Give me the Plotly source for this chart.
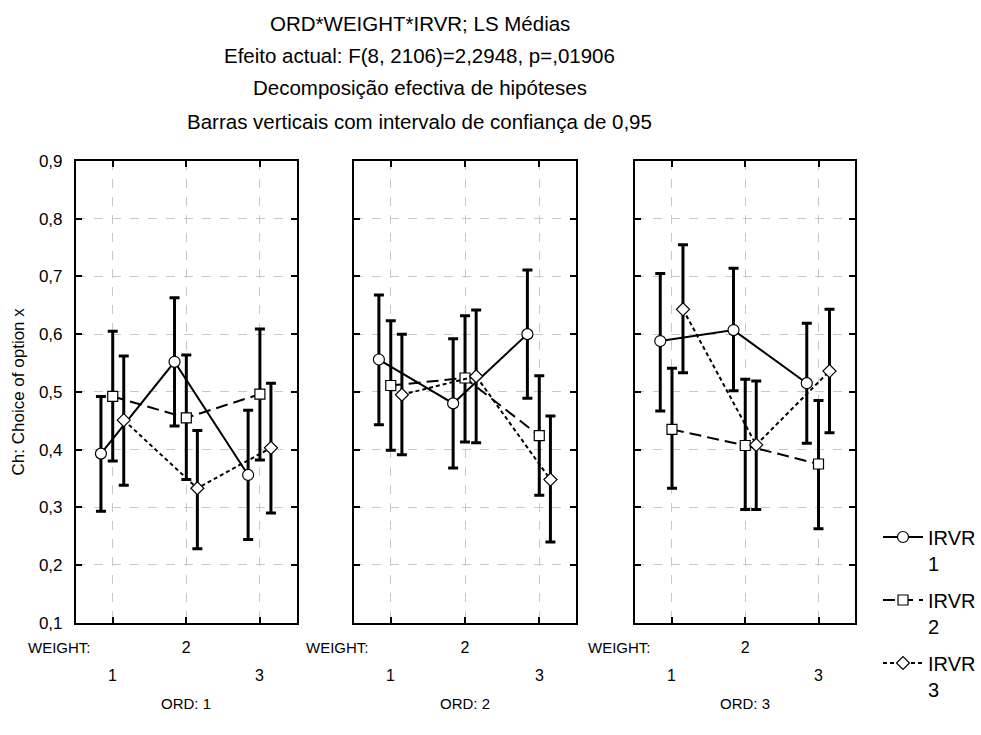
import plotly.graph_objects as go

# ---------------- data ----------------
weights = [1, 2, 3]
ord_labels = ["ORD: 1", "ORD: 2", "ORD: 3"]
irvr_names = ["IRVR<br>1", "IRVR<br>2", "IRVR<br>3"]

# LS means and 95% CI bounds, per ORD panel, per IRVR level, over WEIGHT 1..3
ord1_irvr1_mean = [0.393, 0.552, 0.356]
ord1_irvr1_lo = [0.293, 0.441, 0.244]
ord1_irvr1_hi = [0.492, 0.663, 0.468]
ord1_irvr2_mean = [0.492, 0.455, 0.496]
ord1_irvr2_lo = [0.380, 0.348, 0.382]
ord1_irvr2_hi = [0.605, 0.564, 0.609]
ord1_irvr3_mean = [0.451, 0.333, 0.403]
ord1_irvr3_lo = [0.338, 0.228, 0.290]
ord1_irvr3_hi = [0.562, 0.433, 0.515]

ord2_irvr1_mean = [0.556, 0.480, 0.600]
ord2_irvr1_lo = [0.443, 0.368, 0.489]
ord2_irvr1_hi = [0.668, 0.592, 0.711]
ord2_irvr2_mean = [0.511, 0.524, 0.424]
ord2_irvr2_lo = [0.399, 0.413, 0.321]
ord2_irvr2_hi = [0.623, 0.632, 0.528]
ord2_irvr3_mean = [0.495, 0.527, 0.348]
ord2_irvr3_lo = [0.391, 0.412, 0.240]
ord2_irvr3_hi = [0.600, 0.642, 0.458]

ord3_irvr1_mean = [0.588, 0.607, 0.515]
ord3_irvr1_lo = [0.467, 0.502, 0.411]
ord3_irvr1_hi = [0.705, 0.714, 0.619]
ord3_irvr2_mean = [0.435, 0.407, 0.375]
ord3_irvr2_lo = [0.333, 0.296, 0.263]
ord3_irvr2_hi = [0.541, 0.522, 0.485]
ord3_irvr3_mean = [0.643, 0.408, 0.536]
ord3_irvr3_lo = [0.533, 0.296, 0.429]
ord3_irvr3_hi = [0.755, 0.519, 0.643]

y_tickvals = [0.1, 0.2, 0.3, 0.4, 0.5, 0.6, 0.7, 0.8, 0.9]
y_ticktext = ["0,1", "0,2", "0,3", "0,4", "0,5", "0,6", "0,7", "0,8", "0,9"]
x_ticktext_upper = ["", "2", ""]     # first row of WEIGHT labels
x_ticktext_lower = ["1", "", "3"]    # second (staggered) row

title_lines = [
    "ORD*WEIGHT*IRVR; LS Médias",
    "Efeito actual: F(8, 2106)=2,2948, p=,01906",
    "Decomposição efectiva de hipóteses",
    "Barras verticais com intervalo de confiança de 0,95",
]
y_title = "Ch: Choice of option x"

panels = [
    [(ord1_irvr1_mean, ord1_irvr1_lo, ord1_irvr1_hi),
     (ord1_irvr2_mean, ord1_irvr2_lo, ord1_irvr2_hi),
     (ord1_irvr3_mean, ord1_irvr3_lo, ord1_irvr3_hi)],
    [(ord2_irvr1_mean, ord2_irvr1_lo, ord2_irvr1_hi),
     (ord2_irvr2_mean, ord2_irvr2_lo, ord2_irvr2_hi),
     (ord2_irvr3_mean, ord2_irvr3_lo, ord2_irvr3_hi)],
    [(ord3_irvr1_mean, ord3_irvr1_lo, ord3_irvr1_hi),
     (ord3_irvr2_mean, ord3_irvr2_lo, ord3_irvr2_hi),
     (ord3_irvr3_mean, ord3_irvr3_lo, ord3_irvr3_hi)],
]

# ---------------- style ----------------
W, H = 981, 735
FONT = "Liberation Sans, Arial, sans-serif"
x_offsets = [-0.16, 0.0, 0.15]
dashes = ["solid", "12px,6px", "4px,3px"]
symbols = ["circle", "square", "diamond"]
msizes = [11, 10, 10]
x_domains = [(76 / W, 297 / W), (354 / W, 577 / W), (636 / W, 856 / W)]
y_domain = (1 - 630 / H, 1 - 156 / H)

fig = go.Figure()

for p, series in enumerate(panels):
    xa = "x" if p == 0 else f"x{p + 1}"
    ya = "y" if p == 0 else f"y{p + 1}"
    for s, (mean, lo, hi) in enumerate(series):
        fig.add_trace(go.Scatter(
            x=[w + x_offsets[s] for w in weights],
            y=mean,
            xaxis=xa, yaxis=ya,
            mode="lines+markers",
            name=irvr_names[s],
            legendgroup=f"g{s}",
            showlegend=(p == 0),
            line=dict(color="black", width=2, dash=dashes[s]),
            marker=dict(symbol=symbols[s], size=msizes[s], color="white",
                        line=dict(color="black", width=1.2)),
            error_y=dict(type="data", symmetric=False,
                         array=[h - m for h, m in zip(hi, mean)],
                         arrayminus=[m - l for m, l in zip(mean, lo)],
                         color="black", thickness=3, width=5),
        ))

axis_common = dict(
    showline=True, linecolor="black", linewidth=2, mirror="ticks",
    ticks="inside", ticklen=6, tickwidth=2, tickcolor="black",
    showgrid=True, gridcolor="#c8c8c8", griddash="dash", gridwidth=1,
    zeroline=False, tickfont=dict(family=FONT, size=16, color="black"),
)

layout = dict(
    width=W, height=H,
    margin=dict(l=0, r=0, t=0, b=0),
    paper_bgcolor="white", plot_bgcolor="white",
    font=dict(family=FONT, color="black"),
    legend=dict(x=879 / W, y=1 - 522 / H, xanchor="left", yanchor="top",
                font=dict(family=FONT, size=20, color="black"),
                valign="top", tracegroupgap=8, itemwidth=40,
                bgcolor="rgba(0,0,0,0)"),
    annotations=[],
)

for p in range(3):
    xk = "xaxis" if p == 0 else f"xaxis{p + 1}"
    yk = "yaxis" if p == 0 else f"yaxis{p + 1}"
    ya = "y" if p == 0 else f"y{p + 1}"
    xa = "x" if p == 0 else f"x{p + 1}"
    layout[xk] = dict(axis_common, domain=list(x_domains[p]), anchor=ya,
                      range=[0.5, 3.5], tickvals=weights, ticktext=x_ticktext_upper,
                      ticklabelstandoff=9)
    ydict = dict(axis_common, domain=list(y_domain), anchor=xa,
                 range=[0.1, 0.9], tickvals=y_tickvals, ticktext=y_ticktext,
                 showticklabels=(p == 0), ticklabelstandoff=8,
                 tickfont=dict(family=FONT, size=17, color="black"))
    if p == 0:
        ydict["title"] = dict(text=y_title, font=dict(family=FONT, size=17, color="black"),
                              standoff=10)
    layout[yk] = ydict
    # lower staggered row of WEIGHT tick labels, placed on the axis scale
    for w, t in zip(weights, x_ticktext_lower):
        if t:
            layout["annotations"].append(dict(
                text=t, xref=xa, yref="paper", x=w, y=1 - 684 / H,
                xanchor="center", yanchor="middle", showarrow=False,
                font=dict(family=FONT, size=16, color="black")))
    layout["annotations"].append(dict(
        text="WEIGHT:", xref="paper", yref="paper",
        x=x_domains[p][0] - 16 / W, y=1 - 655 / H, xanchor="center", yanchor="middle",
        showarrow=False, font=dict(family=FONT, size=15, color="black")))
    layout["annotations"].append(dict(
        text=ord_labels[p], xref="paper", yref="paper",
        x=(x_domains[p][0] + x_domains[p][1]) / 2, y=1 - 713 / H,
        xanchor="center", yanchor="middle", showarrow=False,
        font=dict(family=FONT, size=15, color="black")))

for txt, yc in zip(title_lines, [15, 48, 81, 115]):
    layout["annotations"].append(dict(
        text=txt, xref="paper", yref="paper", x=420 / W, y=1 - yc / H,
        xanchor="center", yanchor="middle", showarrow=False,
        font=dict(family=FONT, size=20.5, color="black")))

fig.update_layout(**layout)
fig.write_html("out.html")
